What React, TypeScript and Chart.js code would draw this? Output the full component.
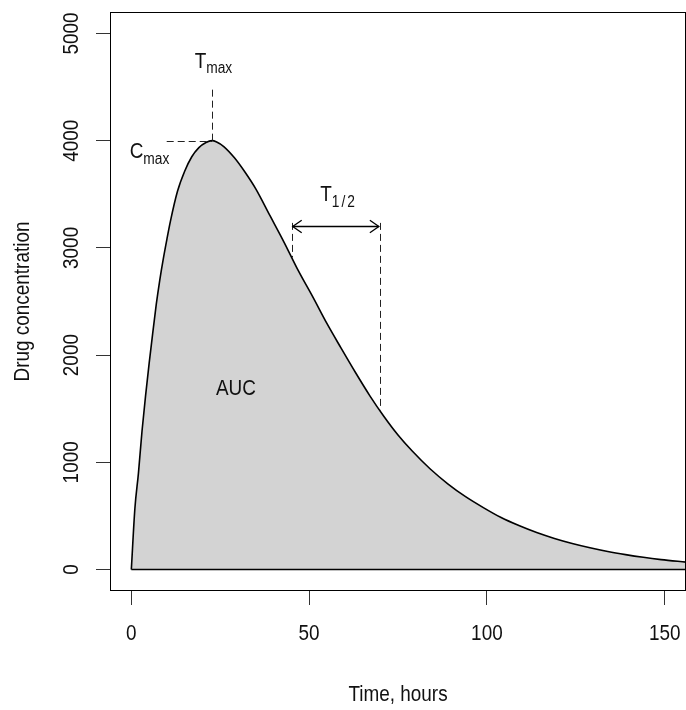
import React, { useEffect, useRef } from 'react';
import { Chart, registerables } from 'chart.js';

Chart.register(...registerables);

// ---- data ----
const TIME_H = [0, 1, 2, 3, 4, 5, 6, 7, 8, 9, 10, 11, 13, 15, 17, 19, 21, 22.7, 24, 26, 29, 32, 35, 39, 43, 47, 51, 55, 59, 63, 67, 71, 75, 79, 84, 89, 94, 99, 104, 109, 114, 119, 124, 129, 134, 139, 144, 149, 156];
const CONC = [0, 570, 900, 1290, 1620, 1920, 2200, 2470, 2700, 2900, 3080, 3250, 3530, 3715, 3850, 3935, 3983, 4000, 3987, 3945, 3840, 3705, 3550, 3300, 3050, 2785, 2545, 2295, 2065, 1840, 1625, 1430, 1255, 1105, 940, 800, 680, 578, 485, 410, 345, 290, 243, 203, 168, 139, 114, 93, 69];

const X_TICKS = [0, 50, 100, 150];
const Y_TICKS = [0, 1000, 2000, 3000, 4000, 5000];
const X_RANGE = [-6, 156];
const Y_RANGE = [-200, 5200];

const X_TITLE = 'Time, hours';
const Y_TITLE = 'Drug concentration';

// annotation values (data units)
const T_MAX = 22.7;
const C_MAX = 4000;
const TMAX_LINE_TOP = 4505;
const CMAX_LINE_START = 9.95;
const HALF_START = 45.1;
const HALF_END = 69.9;
const HALF_START_C = 2911;
const HALF_END_C = 1484;
const HALF_ARROW_C = 3205;
const HALF_LINE_TOP = 3233;
const TMAX_LABEL = { t: 23.1, c: 4679 };
const CMAX_LABEL = { t: 5.1, c: 3840 };
const HALF_LABEL = { t: 58.0, c: 3439 };
const AUC_LABEL = { t: 29.4, c: 1629, text: 'AUC' };

const FAMILY = '"Liberation Sans", Arial, sans-serif';
const TEXT_COLOR = '#111';
const FONT_SIZE = 22;
const SUB_SIZE = 16;
const SX = 0.86; // horizontal condensing of the text, as in the reference

function drawText(ctx: CanvasRenderingContext2D, text: string, x: number, y: number, size: number, rot = 0, align: CanvasTextAlign = 'center', baseline: CanvasTextBaseline = 'middle') {
  ctx.save();
  ctx.translate(x, y);
  if (rot) ctx.rotate(rot);
  ctx.scale(SX, 1);
  ctx.font = `${size}px ${FAMILY}`;
  ctx.textAlign = align;
  ctx.textBaseline = baseline;
  ctx.fillText(text, 0, 0);
  ctx.restore();
}

function textW(ctx: CanvasRenderingContext2D, text: string, size: number) {
  ctx.font = `${size}px ${FAMILY}`;
  return ctx.measureText(text).width * SX;
}

function drawSub(ctx: CanvasRenderingContext2D, main: string, subParts: string[], cx: number, base: number, drop: number, gap = 0) {
  const wm = textW(ctx, main, FONT_SIZE);
  const ws = subParts.map((s) => textW(ctx, s, SUB_SIZE));
  const total = wm + ws.reduce((a, b) => a + b, 0) + gap * (subParts.length - 1);
  let x0 = cx - total / 2;
  drawText(ctx, main, x0, base, FONT_SIZE, 0, 'left', 'alphabetic');
  x0 += wm;
  subParts.forEach((s, i) => {
    drawText(ctx, s, x0, base + drop, SUB_SIZE, 0, 'left', 'alphabetic');
    x0 += ws[i] + gap;
  });
}

const annotPlugin = {
  id: 'pkAnnot',
  afterDraw(chart: any) {
    const { ctx, chartArea: a, scales } = chart;
    const xs = scales.x;
    const ys = scales.y;
    const px = (v: number) => xs.getPixelForValue(v);
    const py = (v: number) => ys.getPixelForValue(v);
    const r = (v: number) => Math.round(v) + 0.5;
    const line = (x1: number, y1: number, x2: number, y2: number) => {
      ctx.beginPath();
      ctx.moveTo(x1, y1);
      ctx.lineTo(x2, y2);
      ctx.stroke();
    };
    ctx.save();
    // plot box
    ctx.strokeStyle = '#000';
    ctx.lineWidth = 1;
    ctx.setLineDash([]);
    ctx.strokeRect(a.left + 0.5, a.top + 0.5, a.right - a.left - 1, a.bottom - a.top - 1);

    // tick labels and axis titles (positions from the scales)
    ctx.fillStyle = TEXT_COLOR;
    xs.ticks.forEach((t: any) => drawText(ctx, String(t.value), px(t.value), a.bottom + 43, FONT_SIZE));
    ys.ticks.forEach((t: any) => drawText(ctx, String(t.value), a.left - 38, py(t.value), FONT_SIZE, -Math.PI / 2));
    drawText(ctx, X_TITLE, (a.left + a.right) / 2, a.bottom + 104, FONT_SIZE);
    drawText(ctx, Y_TITLE, a.left - 87, (a.top + a.bottom) / 2, FONT_SIZE, -Math.PI / 2);

    // dashed guide lines
    ctx.strokeStyle = '#222';
    ctx.setLineDash([7, 4]);
    line(r(px(T_MAX)), py(C_MAX), r(px(T_MAX)), py(TMAX_LINE_TOP));
    line(px(CMAX_LINE_START), r(py(C_MAX)), px(T_MAX), r(py(C_MAX)));
    line(r(px(HALF_START)), py(HALF_LINE_TOP), r(px(HALF_START)), py(HALF_START_C));
    line(r(px(HALF_END)), py(HALF_LINE_TOP), r(px(HALF_END)), py(HALF_END_C));

    // double arrow
    ctx.setLineDash([]);
    ctx.strokeStyle = '#000';
    ctx.lineWidth = 1.3;
    const ay = r(py(HALF_ARROW_C));
    const x1 = px(HALF_START) + 1;
    const x2 = px(HALF_END) - 1;
    line(x1, ay, x2, ay);
    const L = 11;
    const ang = (35 * Math.PI) / 180;
    ctx.beginPath();
    ctx.moveTo(x1 + L * Math.cos(ang), ay - L * Math.sin(ang));
    ctx.lineTo(x1, ay);
    ctx.lineTo(x1 + L * Math.cos(ang), ay + L * Math.sin(ang));
    ctx.moveTo(x2 - L * Math.cos(ang), ay - L * Math.sin(ang));
    ctx.lineTo(x2, ay);
    ctx.lineTo(x2 - L * Math.cos(ang), ay + L * Math.sin(ang));
    ctx.stroke();

    // annotation labels
    drawSub(ctx, 'T', ['max'], px(TMAX_LABEL.t), py(TMAX_LABEL.c), 5);
    drawSub(ctx, 'C', ['max'], px(CMAX_LABEL.t), py(CMAX_LABEL.c), 6);
    drawSub(ctx, 'T', ['1', '/', '2'], px(HALF_LABEL.t), py(HALF_LABEL.c), 6, 2);
    drawText(ctx, AUC_LABEL.text, px(AUC_LABEL.t), py(AUC_LABEL.c), FONT_SIZE, 0, 'center', 'alphabetic');
    ctx.restore();
  },
};

export default function App() {
  const ref = useRef<HTMLCanvasElement | null>(null);
  useEffect(() => {
    if (!ref.current) return;
    const curve = TIME_H.map((t, i) => ({ x: t, y: CONC[i] }));
    const baseline = [
      { x: TIME_H[0], y: 0 },
      { x: TIME_H[TIME_H.length - 1], y: 0 },
    ];
    const chart = new Chart(ref.current, {
      type: 'line',
      data: {
        datasets: [
          { data: baseline, borderColor: '#000', borderWidth: 1.5, pointRadius: 0, fill: false },
          {
            data: curve,
            borderColor: '#000',
            borderWidth: 1.6,
            backgroundColor: '#D3D3D3',
            fill: 'origin',
            pointRadius: 0,
            cubicInterpolationMode: 'monotone',
          },
        ],
      },
      options: {
        animation: false,
        responsive: false,
        devicePixelRatio: 1,
        layout: { padding: { top: 12, right: 0, left: 0, bottom: 0 } },
        plugins: { legend: { display: false }, tooltip: { enabled: false } },
        scales: {
          x: {
            type: 'linear',
            min: X_RANGE[0],
            max: X_RANGE[1],
            afterBuildTicks: (s: any) => {
              s.ticks = X_TICKS.map((v) => ({ value: v }));
            },
            afterFit: (s: any) => {
              s.height = 119;
              s.paddingLeft = 0;
              s.paddingRight = 0;
            },
            grid: { drawOnChartArea: false, drawTicks: true, tickLength: 14, tickColor: '#333', lineWidth: 1 },
            border: { display: false },
            ticks: { display: false, autoSkip: false },
          },
          y: {
            type: 'linear',
            min: Y_RANGE[0],
            max: Y_RANGE[1],
            afterBuildTicks: (s: any) => {
              s.ticks = Y_TICKS.map((v) => ({ value: v }));
            },
            afterFit: (s: any) => {
              s.width = 110;
              s.paddingTop = 0;
              s.paddingBottom = 0;
            },
            grid: { drawOnChartArea: false, drawTicks: true, tickLength: 14, tickColor: '#333', lineWidth: 1 },
            border: { display: false },
            ticks: { display: false, autoSkip: false },
          },
        },
      } as any,
      plugins: [annotPlugin],
    });
    return () => chart.destroy();
  }, []);
  return (
    <div style={{ position: 'fixed', left: 0, top: 0, width: 686, height: 710, background: '#fff' }}>
      <canvas ref={ref} width={686} height={710} style={{ display: 'block' }} />
    </div>
  );
}
